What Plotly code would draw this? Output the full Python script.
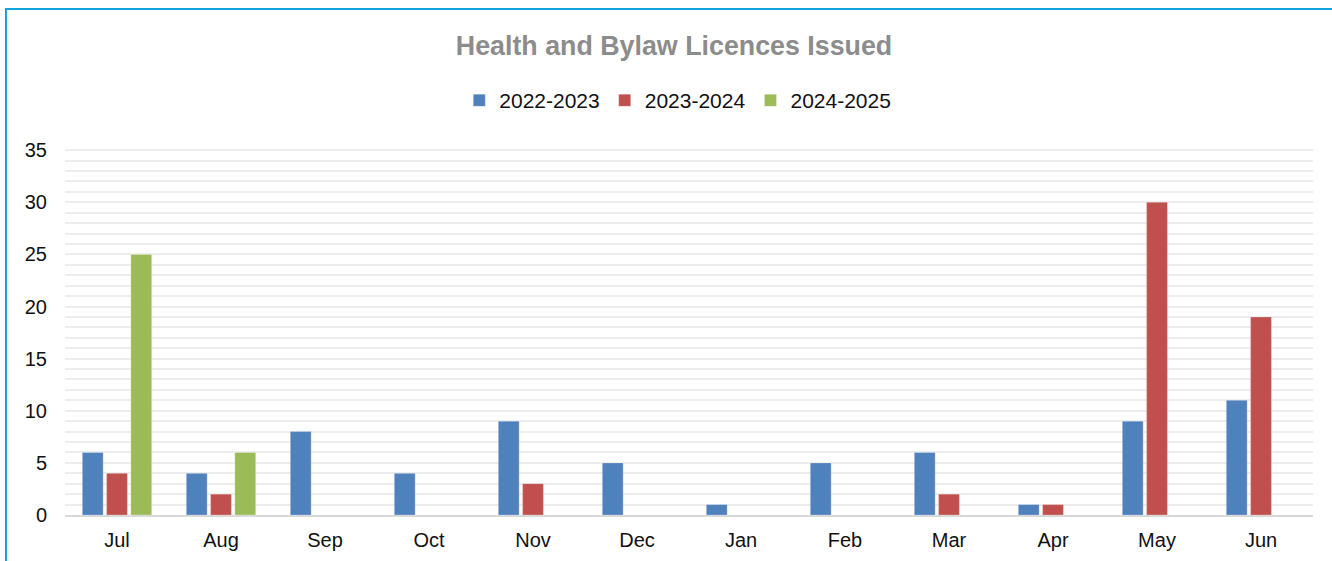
import plotly.graph_objects as go

months = ['Jul', 'Aug', 'Sep', 'Oct', 'Nov', 'Dec', 'Jan', 'Feb', 'Mar', 'Apr', 'May', 'Jun']
fy_2022_2023 = [6, 4, 8, 4, 9, 5, 1, 5, 6, 1, 9, 11]
fy_2023_2024 = [4, 2, 0, 0, 3, 0, 0, 0, 2, 1, 30, 19]
fy_2024_2025 = [25, 6, None, None, None, None, None, None, None, None, None, None]
y_ticks = [0, 5, 10, 15, 20, 25, 30, 35]

BLUE = '#4F81BD'
RED = '#C0504D'
GREEN = '#9BBB59'
GRID_COLOR = '#EDEDED'
FONT = 'Liberation Sans, Arial, sans-serif'

fig = go.Figure()

for name, vals, color in [
    ('2022-2023', fy_2022_2023, BLUE),
    ('2023-2024', fy_2023_2024, RED),
    ('2024-2025', fy_2024_2025, GREEN),
]:
    fig.add_trace(go.Bar(
        x      = months,
        y      = vals,
        name   = name,
        marker = dict(color = color, line = dict(color = 'rgba(255,255,255,0.5)', width = 0.5)),
    ))

# outer chart border (blue frame, cut off at right/bottom)
fig.add_shape(
    type = 'rect', xref = 'paper', yref = 'paper',
    x0 = -0.0473, x1 = 1.2, y0 = -0.3, y1 = 1.375,
    line = dict(color = '#12A3DC', width = 2),
    layer = 'below',
)

fig.update_layout(
    width = 1332,
    height = 561,
    paper_bgcolor = 'white',
    plot_bgcolor = 'white',
    font = dict(family = FONT, size = 20, color = '#111111'),
    title = dict(
        text = '<b>Health and Bylaw Licences Issued</b>',
        x = 0.488, xref = 'paper', xanchor = 'center',
        y = 1 - 46 / 561, yref = 'container', yanchor = 'middle',
        font = dict(family = FONT, size = 26.8, color = '#8C8C8C'),
    ),
    barmode = 'group',
    bargap = 0.3,
    bargroupgap = 0.14,
    showlegend = True,
    legend = dict(
        orientation = 'h',
        x = 0.491, xanchor = 'center',
        y = 1.126, yanchor = 'middle',
        font = dict(size = 21, color = '#111111'),
        itemwidth = 30,
        traceorder = 'normal',
    ),
    xaxis = dict(
        showgrid = False,
        showline = True,
        linecolor = '#D9D9D9',
        linewidth = 2,
        ticks = '',
        ticklabelstandoff = 6,
        tickfont = dict(size = 20),
        automargin = False,
    ),
    yaxis = dict(
        range = [0, 35.3],
        tickvals = y_ticks,
        showgrid = True,
        gridcolor = GRID_COLOR,
        gridwidth = 2,
        minor = dict(dtick = 1, showgrid = True, gridcolor = GRID_COLOR, gridwidth = 2),
        zeroline = False,
        ticks = '',
        ticklabelstandoff = 17,
        tickfont = dict(size = 20),
        automargin = False,
    ),
    margin = dict(l = 65, r = 19, t = 147, b = 46),
)

fig.write_html(
    'out.html',
    config = dict(displayModeBar = False),
    post_script = "document.body.style.margin = '0';",
)
